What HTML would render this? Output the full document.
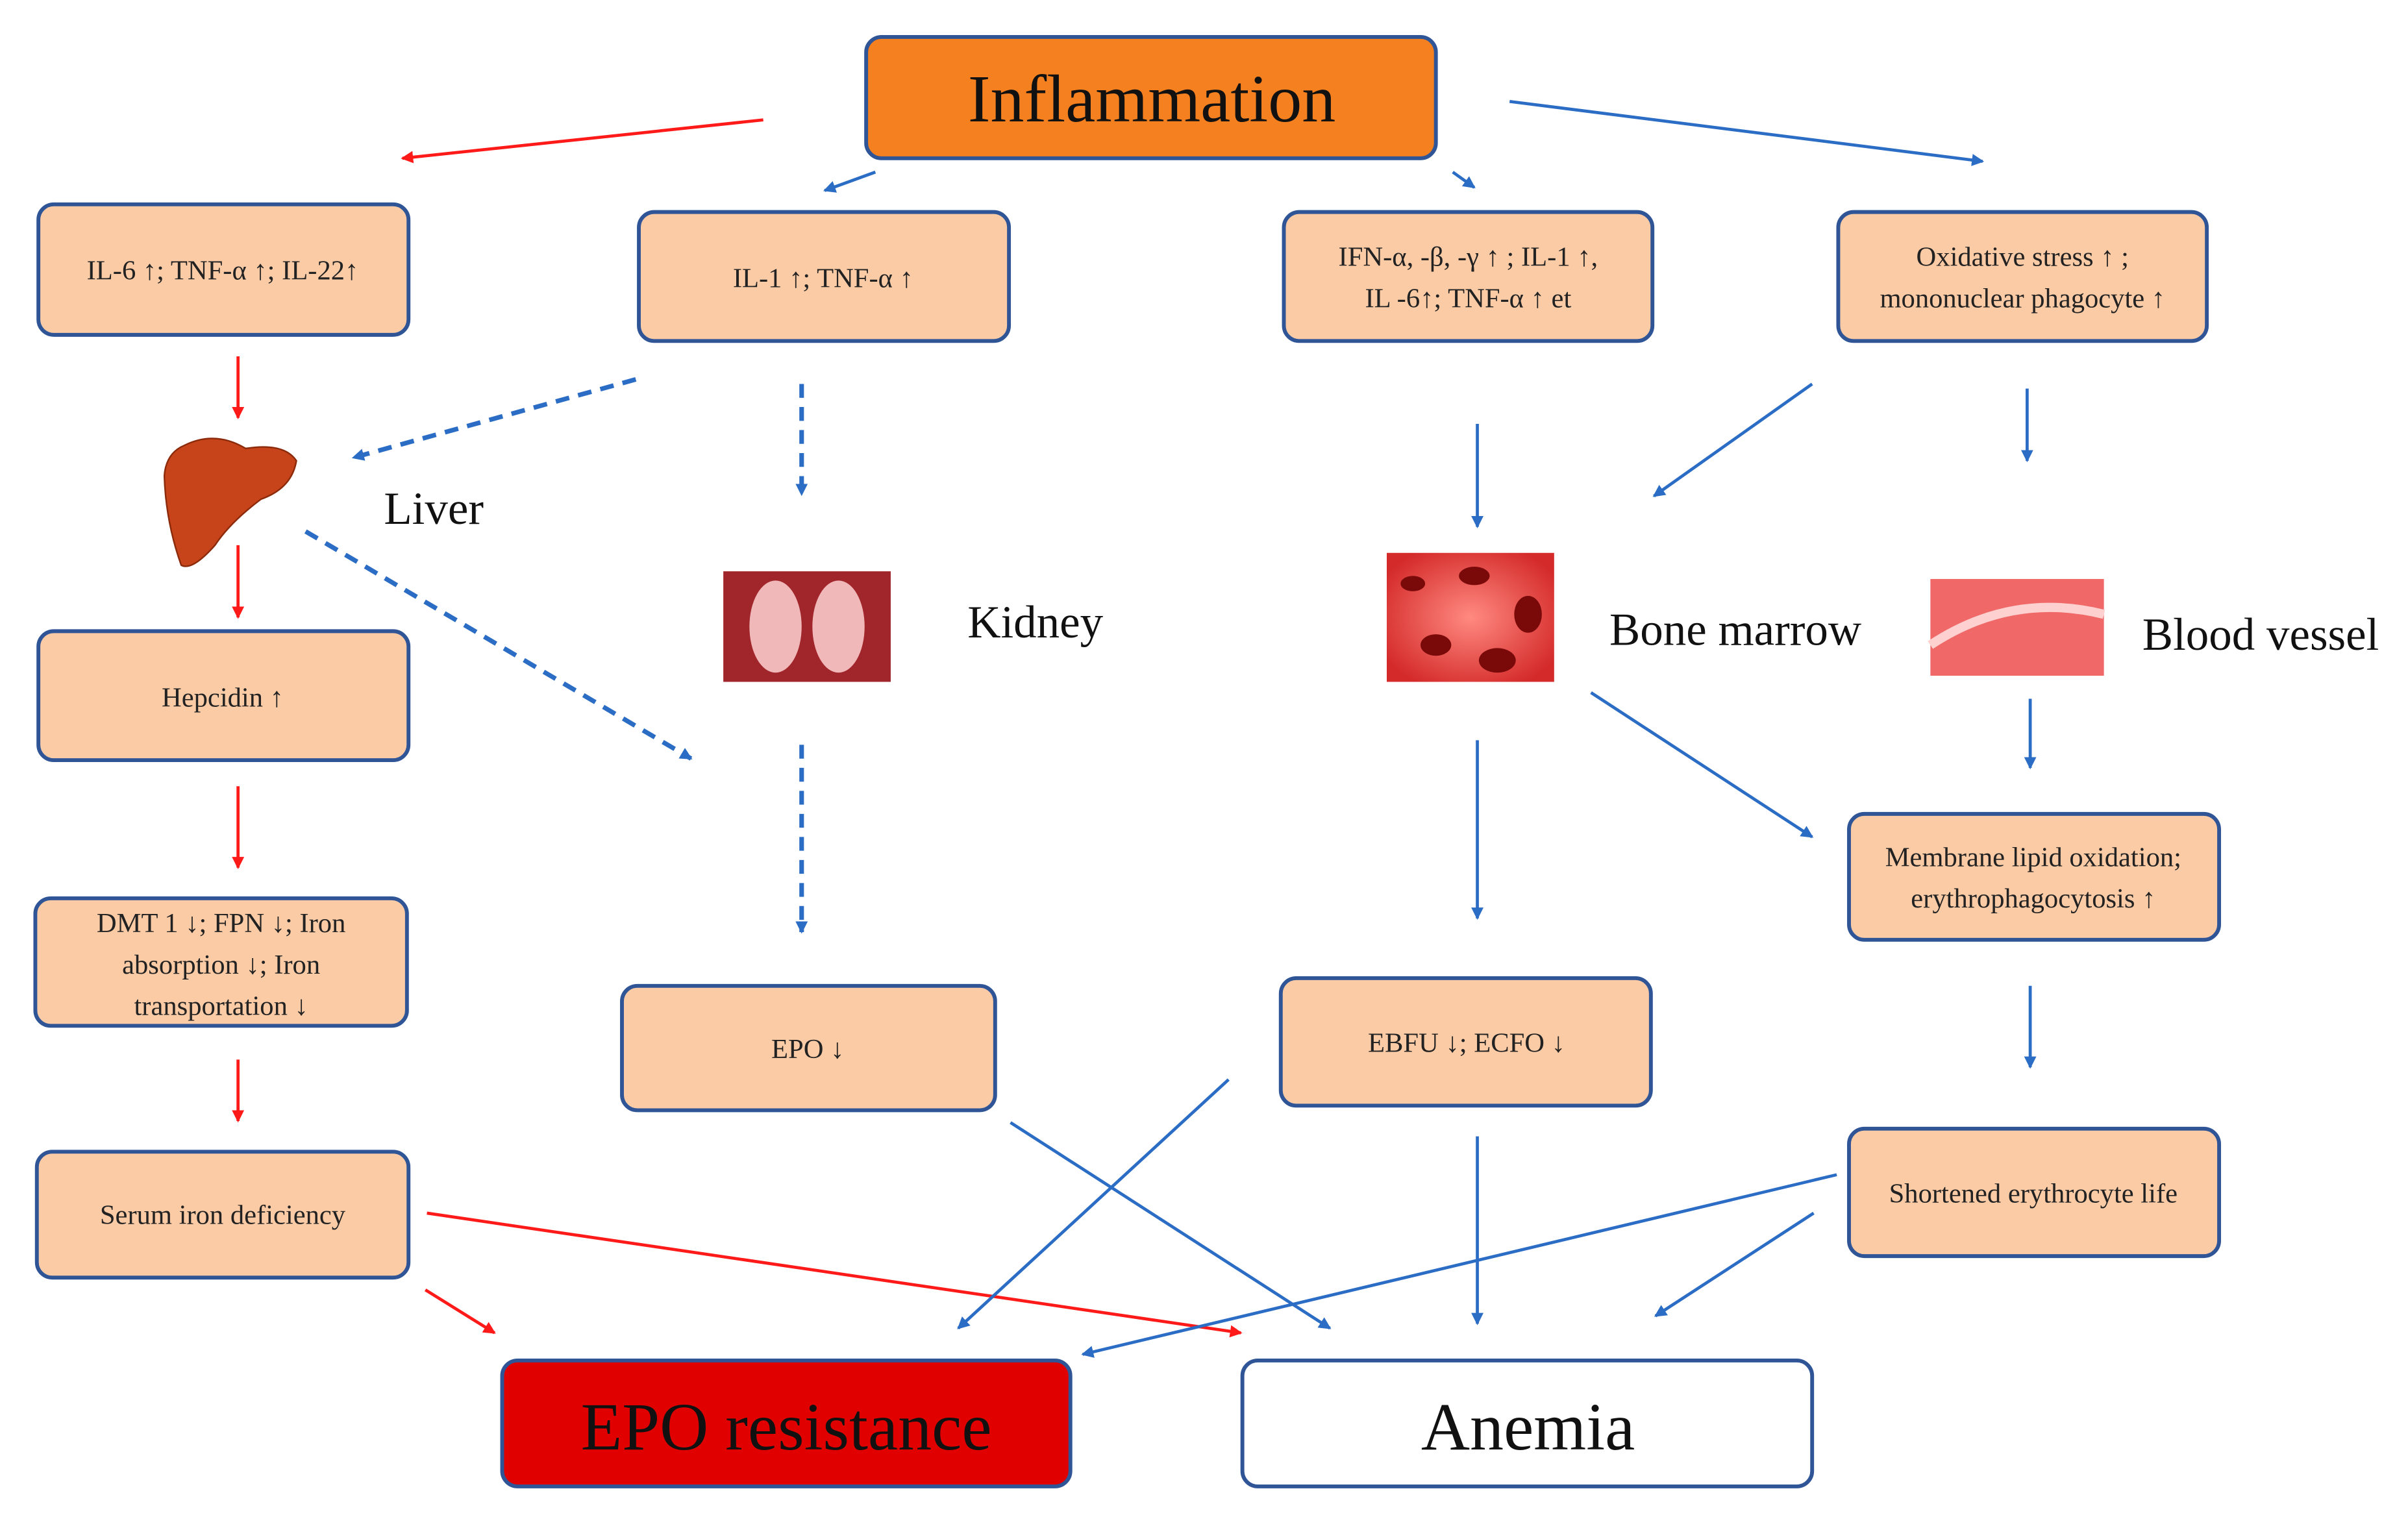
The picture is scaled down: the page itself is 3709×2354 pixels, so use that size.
<!DOCTYPE html>
<html><head><meta charset="utf-8"><style>
html,body{margin:0;padding:0;background:#fff;}
svg{display:block;}
text{font-family:"Liberation Serif",serif;}
</style></head><body>
<svg width="3709" height="2354" viewBox="0 0 1568 995" xmlns="http://www.w3.org/2000/svg">
<defs>
<marker id="ar" markerWidth="8" markerHeight="8" refX="7" refY="4" orient="auto" markerUnits="userSpaceOnUse"><path d="M0,0 L8,4 L0,8 z" fill="#ff1a1a"/></marker>
<marker id="ab" markerWidth="8" markerHeight="8" refX="7" refY="4" orient="auto" markerUnits="userSpaceOnUse"><path d="M0,0 L8,4 L0,8 z" fill="#2b6cc4"/></marker>
<radialGradient id="rg" cx="50%" cy="50%" r="60%"><stop offset="0" stop-color="#ff8a80"/><stop offset="1" stop-color="#d42a2a"/></radialGradient>
</defs>
<rect width="1568" height="995" fill="#fff"/>
<g stroke="#2f5597" stroke-width="2.5">
<rect x="564" y="24" width="371" height="79" rx="10" fill="#f5801f"/>
<g fill="#fbcba6">
<rect x="25" y="133" width="241" height="85" rx="10"/>
<rect x="416" y="138" width="241" height="84" rx="10"/>
<rect x="836" y="138" width="240" height="84" rx="10"/>
<rect x="1197" y="138" width="240" height="84" rx="10"/>
<rect x="25" y="411" width="241" height="84" rx="10"/>
<rect x="23" y="585" width="242" height="83" rx="10"/>
<rect x="24" y="750" width="242" height="82" rx="10"/>
<rect x="405" y="642" width="243" height="81" rx="10"/>
<rect x="834" y="637" width="241" height="83" rx="10"/>
<rect x="1204" y="530" width="241" height="82" rx="10"/>
<rect x="1204" y="735" width="241" height="83" rx="10"/>
</g>
<rect x="327" y="886" width="370" height="82" rx="10" fill="#e00000"/>
<rect x="809" y="886" width="371" height="82" rx="10" fill="#fff"/>
</g>
<g font-size="44" text-anchor="middle" fill="#111">
<text x="750" y="79">Inflammation</text>
<text x="512" y="944">EPO resistance</text>
<text x="995" y="944">Anemia</text>
</g>
<g font-size="18" text-anchor="middle" fill="#222">
<text x="145" y="182">IL-6 ↑; TNF-α ↑; IL-22↑</text>
<text x="536" y="187">IL-1 ↑; TNF-α ↑</text>
<text x="956" y="173">IFN-α, -β, -γ ↑ ; IL-1 ↑,</text>
<text x="956" y="200">IL -6↑; TNF-α ↑ et</text>
<text x="1317" y="173">Oxidative stress ↑ ;</text>
<text x="1317" y="200">mononuclear phagocyte ↑</text>
<text x="145" y="460">Hepcidin ↑</text>
<text x="144" y="607">DMT 1 ↓; FPN ↓; Iron</text>
<text x="144" y="634">absorption ↓;  Iron</text>
<text x="144" y="661">transportation ↓</text>
<text x="145" y="797">Serum iron deficiency</text>
<text x="526" y="689">EPO ↓</text>
<text x="955" y="685">EBFU ↓; ECFO ↓</text>
<text x="1324" y="564">Membrane lipid oxidation;</text>
<text x="1324" y="591">erythrophagocytosis ↑</text>
<text x="1324" y="783">Shortened erythrocyte life</text>
</g>
<g font-size="30" fill="#111">
<text x="250" y="341">Liver</text>
<text x="630" y="415">Kidney</text>
<text x="1048" y="420">Bone marrow</text>
<text x="1395" y="423">Blood vessel</text>
</g>
<!-- images -->
<path d="M120,290 Q140,280 160,292 Q185,288 193,300 Q190,318 170,325 Q150,340 140,355 Q125,372 118,368 Q108,340 107,310 Q108,295 120,290z" fill="#c7441a" stroke="#8a2a0a" stroke-width="1"/>
<rect x="471" y="372" width="109" height="72" fill="#a0262c"/>
<ellipse cx="505" cy="408" rx="17" ry="30" fill="#f0b8b8"/><ellipse cx="546" cy="408" rx="17" ry="30" fill="#f0b8b8"/>
<rect x="903" y="360" width="109" height="84" fill="url(#rg)"/>
<g fill="#7a0a0a"><ellipse cx="920" cy="380" rx="8" ry="5"/><ellipse cx="960" cy="375" rx="10" ry="6"/><ellipse cx="995" cy="400" rx="9" ry="12"/><ellipse cx="935" cy="420" rx="10" ry="7"/><ellipse cx="975" cy="430" rx="12" ry="8"/></g>
<rect x="1257" y="377" width="113" height="63" fill="#f06868"/>
<path d="M1257,420 Q1310,385 1370,400" stroke="#ffd0d0" stroke-width="6" fill="none"/>
<!-- red arrows -->
<g stroke="#ff1a1a" stroke-width="2" fill="none" marker-end="url(#ar)">
<line x1="497" y1="78" x2="262" y2="103"/>
<line x1="155" y1="232" x2="155" y2="272"/>
<line x1="155" y1="355" x2="155" y2="402"/>
<line x1="155" y1="512" x2="155" y2="565"/>
<line x1="155" y1="690" x2="155" y2="730"/>
<line x1="278" y1="790" x2="808" y2="868"/>
<line x1="277" y1="840" x2="322" y2="868"/>
</g>
<!-- blue solid -->
<g stroke="#2b6cc4" stroke-width="2" fill="none" marker-end="url(#ab)">
<line x1="570" y1="112" x2="537" y2="124"/>
<line x1="946" y1="112" x2="960" y2="122"/>
<line x1="983" y1="66" x2="1291" y2="105"/>
<line x1="962" y1="276" x2="962" y2="343"/>
<line x1="1180" y1="250" x2="1077" y2="323"/>
<line x1="1320" y1="253" x2="1320" y2="300"/>
<line x1="1322" y1="455" x2="1322" y2="500"/>
<line x1="1036" y1="451" x2="1180" y2="545"/>
<line x1="962" y1="482" x2="962" y2="598"/>
<line x1="1322" y1="642" x2="1322" y2="695"/>
<line x1="800" y1="703" x2="624" y2="865"/>
<line x1="658" y1="731" x2="866" y2="865"/>
<line x1="962" y1="740" x2="962" y2="862"/>
<line x1="1196" y1="765" x2="705" y2="882"/>
<line x1="1181" y1="790" x2="1078" y2="857"/>
</g>
<!-- blue dashed -->
<g stroke="#2b6cc4" stroke-width="3" fill="none" stroke-dasharray="9,6" marker-end="url(#ab)">
<line x1="414" y1="247" x2="230" y2="298"/>
<line x1="522" y1="250" x2="522" y2="322"/>
<line x1="199" y1="346" x2="450" y2="494"/>
<line x1="522" y1="485" x2="522" y2="607"/>
</g>
</svg>
</body></html>
